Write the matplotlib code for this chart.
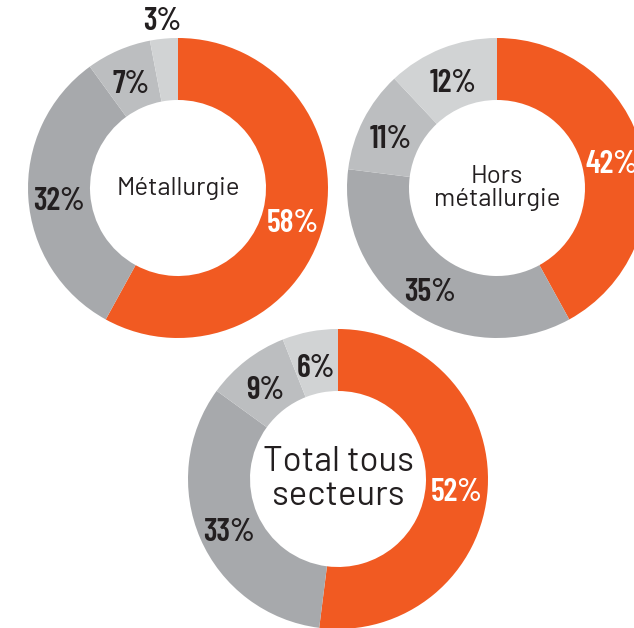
import numpy as np
import matplotlib
matplotlib.use("Agg")
import matplotlib.pyplot as plt

# shares, clockwise from 12 o'clock
metallurgie = [58, 32, 7, 3]
hors_metallurgie = [42, 35, 11, 12]
total = [52, 33, 9, 6]
titles = ["Métallurgie", "Hors\nmétallurgie", "Total tous\nsecteurs"]

colors = ["#F15A22", "#A7A9AC", "#BCBEC0", "#D1D3D4"]
label_colors = ["white", "#231F20", "#231F20", "#231F20"]

W, H = 634, 628
fig = plt.figure(figsize=(W / 100, H / 100), dpi=100)
ax = fig.add_axes([0, 0, 1, 1])

R = 150
ring = 62
num_font = ["Barlow Condensed", "DejaVu Sans"]
title_font = ["Barlow", "Roboto", "DejaVu Sans"]

charts = [
    (metallurgie, (178, 188), titles[0], 18.5),
    (hors_metallurgie, (497, 188), titles[1], 18.5),
    (total, (338, 479), titles[2], 25),
]

for values, (cx, cy), title, tsize in charts:
    center = (cx, H - cy)
    ax.pie(values, colors=colors, startangle=90, counterclock=False,
           center=center, radius=R,
           wedgeprops=dict(width=ring, edgecolor="none"))
    total_v = sum(values)
    start = 90.0
    for v, lc in zip(values, label_colors):
        sweep = 360.0 * v / total_v
        mid = np.deg2rad(start - sweep / 2)
        start -= sweep
        if v < 5:
            r, col, dy = R + 17, "#231F20", 0
        else:
            r, col, dy = R - ring / 2, lc, -6
        ax.text(center[0] + r * np.cos(mid), center[1] + r * np.sin(mid) + dy,
                f"{v}%", ha="center", va="center", color=col,
                fontsize=23, fontweight="semibold", family=num_font)
    ax.text(center[0], center[1], title, ha="center", va="center",
            color="#231F20", fontsize=tsize, family=title_font,
            linespacing=1.05)

ax.set_xlim(0, W)
ax.set_ylim(0, H)
ax.set_aspect("equal")
ax.axis("off")

fig.savefig("out.png", dpi=100)
